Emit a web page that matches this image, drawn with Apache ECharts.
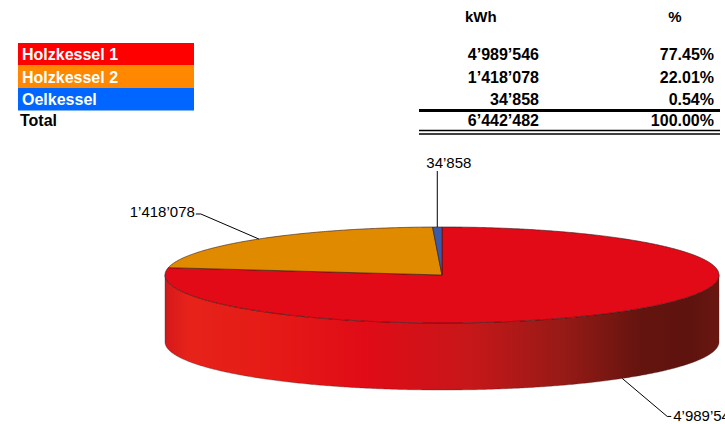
<!DOCTYPE html>
<html><head><meta charset="utf-8">
<script src="https://cdn.jsdelivr.net/npm/echarts@6/dist/echarts.min.js"></script>
<style>html,body{margin:0;padding:0;background:#fff}#c{width:725px;height:424px}</style>
</head><body><div id="c"></div>
<script>
// ---- data ----
const categories = ['Holzkessel 1', 'Holzkessel 2', 'Oelkessel'];
const kwh = [4989546, 1418078, 34858];
const percents = [77.45, 22.01, 0.54];
const totalLabel = 'Total';
const totalKwh = 6442482;
const totalPercent = 100.00;
const headers = ['kWh', '%'];

// ---- styles / layout ----
const tableColors = ['#FF0000', '#FF8800', '#0066FF'];
const pieColors = ['#E20A17', '#E08A00', '#3A5CA8'];
const sideStops = [
  {offset: 0, color: '#D4181A'}, {offset: 0.04, color: '#E6231A'},
  {offset: 0.2, color: '#E51A16'}, {offset: 0.36, color: '#E00B17'},
  {offset: 0.55, color: '#C71719'}, {offset: 0.72, color: '#961A16'},
  {offset: 0.86, color: '#64140F'}, {offset: 0.95, color: '#5E130E'},
  {offset: 1, color: '#6A1711'}
];
const RX = 277, RY = 48, DEPTH = 67;
// label leader layout per slice: anchor angle override (deg, null = mid), on bottom edge, elbow/end offsets (px), text offset/alignment
const labelLayout = [
  {anchorDeg: null, bottom: true, elbow: [45, 38], end: [49, 38], text: [51, 37], align: 'left'},
  {anchorDeg: 318.6, bottom: false, elbow: [-58, -25], end: [-63, -25], text: [-64, -27], align: 'right'},
  {anchorDeg: null, bottom: false, elbow: [0, -56], end: [0, -56], text: [-11, -65], align: 'left'}
];
const FONT = '"Liberation Sans", Arial, sans-serif';

const total = kwh.reduce((a, b) => a + b, 0);
const startDeg = [], endDeg = [];
let acc = 0;
kwh.forEach(v => { startDeg.push(acc / total * 360); acc += v; endDeg.push(acc / total * 360); });

function pt(deg, dz) { const r = deg * Math.PI / 180; return [RX * Math.sin(r), RY * Math.cos(r) - (dz || 0)]; }
function arc(a0, a1, dz) {
  const pts = []; const n = Math.max(2, Math.ceil(Math.abs(a1 - a0) * 2));
  for (let i = 0; i <= n; i++) pts.push(pt(a0 + (a1 - a0) * i / n, dz));
  return pts;
}
const fmt = n => String(n).replace(/\B(?=(\d{3})+(?!\d))/g, '\u2019');

// ---- table as graphic elements ----
const rowTop = [43, 65, 88], rowH = [22, 23, 22.5];
const graphics = [];
headers.forEach((h, j) => graphics.push({type: 'text', x: j === 0 ? 465 : 675, y: 16,
  style: {text: h, font: 'bold 15px ' + FONT, fill: '#000', align: j === 0 ? 'left' : 'center', verticalAlign: 'middle'}}));
categories.forEach((c, i) => {
  graphics.push({type: 'rect', shape: {x: 18, y: rowTop[i], width: 176, height: rowH[i]}, style: {fill: tableColors[i]}});
  const cy = rowTop[i] + rowH[i] / 2 + 0.5;
  graphics.push({type: 'text', x: 22, y: cy, style: {text: c, font: 'bold 16px ' + FONT, fill: '#fff', verticalAlign: 'middle'}});
  graphics.push({type: 'text', x: 539, y: cy, style: {text: fmt(kwh[i]), font: 'bold 16px ' + FONT, fill: '#000', align: 'right', verticalAlign: 'middle'}});
  graphics.push({type: 'text', x: 714, y: cy, style: {text: percents[i].toFixed(2) + '%', font: 'bold 16px ' + FONT, fill: '#000', align: 'right', verticalAlign: 'middle'}});
});
graphics.push({type: 'text', x: 20, y: 120, style: {text: totalLabel, font: 'bold 16px ' + FONT, fill: '#000', verticalAlign: 'middle'}});
graphics.push({type: 'text', x: 539, y: 120, style: {text: fmt(totalKwh), font: 'bold 16px ' + FONT, fill: '#000', align: 'right', verticalAlign: 'middle'}});
graphics.push({type: 'text', x: 714, y: 120, style: {text: totalPercent.toFixed(2) + '%', font: 'bold 16px ' + FONT, fill: '#000', align: 'right', verticalAlign: 'middle'}});
graphics.push({type: 'line', shape: {x1: 419, y1: 110.5, x2: 720, y2: 110.5}, style: {stroke: '#000', lineWidth: 3}});
graphics.push({type: 'line', shape: {x1: 419, y1: 130.5, x2: 720, y2: 130.5}, style: {stroke: '#000', lineWidth: 1.5}});
graphics.push({type: 'line', shape: {x1: 419, y1: 134, x2: 720, y2: 134}, style: {stroke: '#000', lineWidth: 1.5}});

const chart = echarts.init(document.getElementById('c'), null, {renderer: 'svg'});
const seriesData = kwh.map((v, i) => [i, v]);

chart.setOption({
  animation: false,
  backgroundColor: '#fff',
  grid: {left: 165, width: 554, top: 227, height: 163},
  xAxis: {type: 'value', min: -RX, max: RX, show: false},
  yAxis: {type: 'value', min: -(RY + DEPTH), max: RY, show: false},
  graphic: graphics,
  series: [
    { // side wall
      type: 'custom', z: 1, clip: false, data: seriesData,
      renderItem(params, api) {
        const i = params.dataIndex;
        const a0 = Math.max(startDeg[i], 90), a1 = Math.min(endDeg[i], 270);
        if (a0 >= a1) return {type: 'group', children: []};
        const pts = arc(a0, a1, 0).concat(arc(a1, a0, DEPTH)).map(p => api.coord(p));
        return {type: 'polygon', shape: {points: pts},
          style: {fill: i === 0 ? new echarts.graphic.LinearGradient(0, 0, 1, 0, sideStops) : pieColors[i],
                  stroke: 'rgba(70,20,20,0.55)', lineWidth: 0.6}};
      }
    },
    { // top face slices
      type: 'custom', z: 2, clip: false, data: seriesData,
      renderItem(params, api) {
        const i = params.dataIndex;
        const pts = [[0, 0]].concat(arc(startDeg[i], endDeg[i], 0)).map(p => api.coord(p));
        return {type: 'polygon', shape: {points: pts},
          style: {fill: pieColors[i], stroke: 'rgba(50,20,20,0.85)', lineWidth: 0.7}};
      }
    },
    { // data labels with leader lines
      type: 'custom', z: 3, clip: false, data: seriesData,
      renderItem(params, api) {
        const i = params.dataIndex, L = labelLayout[i];
        const deg = L.anchorDeg == null ? (startDeg[i] + endDeg[i]) / 2 : L.anchorDeg;
        const a = api.coord(pt(deg, L.bottom ? DEPTH : 0));
        const e = [a[0] + L.elbow[0], a[1] + L.elbow[1]];
        const f = [a[0] + L.end[0], a[1] + L.end[1]];
        return {type: 'group', children: [
          {type: 'polyline', shape: {points: [a, e, f]}, style: {stroke: '#000', lineWidth: 1, fill: null}},
          {type: 'text', x: a[0] + L.text[0], y: a[1] + L.text[1],
            style: {text: fmt(api.value(1)), font: '15px ' + FONT, fill: '#000', align: L.align, verticalAlign: 'middle'}}
        ]};
      }
    }
  ]
});
</script>
</body></html>
